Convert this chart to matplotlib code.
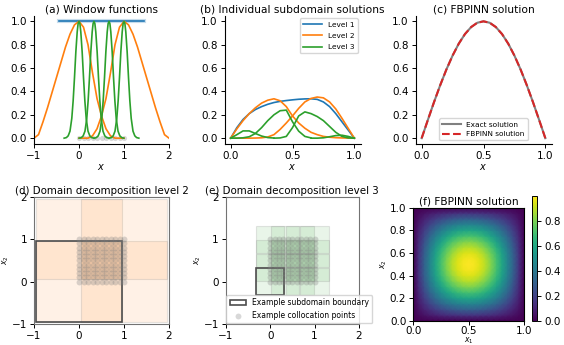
import numpy as np
import matplotlib
matplotlib.use("Agg")
import matplotlib.pyplot as plt
from matplotlib.patches import Rectangle
from matplotlib.colors import to_rgba

# window functions, stored as offset from the subdomain centre
lvl1_range = [-0.45, 1.45]
lvl2_centres = [0.0, 1.0]
lvl2_off = [-1.0, -0.9, -0.8, -0.7, -0.6, -0.5, -0.4, -0.3, -0.2, -0.1, 0.0,
            0.1, 0.2, 0.3, 0.4, 0.5, 0.6, 0.7, 0.8, 0.9, 1.0]
lvl2_win = [0.0, 0.03, 0.14, 0.26, 0.39, 0.52, 0.65, 0.78, 0.89, 0.97, 1.0,
            0.95, 0.80, 0.56, 0.34, 0.19, 0.08, 0.02, 0.0, 0.0, 0.0]
lvl3_centres = [0.0, 0.333, 0.667, 1.0]
lvl3_off = [-0.33, -0.28, -0.24, -0.2, -0.16, -0.13, -0.1, -0.07, -0.04, -0.02, 0.0,
            0.02, 0.04, 0.07, 0.1, 0.13, 0.16, 0.2, 0.24, 0.28, 0.33]
lvl3_win = [0.0, 0.005, 0.02, 0.06, 0.17, 0.32, 0.52, 0.74, 0.91, 0.98, 1.0,
            0.98, 0.91, 0.74, 0.52, 0.32, 0.17, 0.06, 0.02, 0.005, 0.0]

# collocation points
colloc = np.linspace(0, 1, 11)

# individual subdomain solutions
xs = np.linspace(0, 1, 21)
sub_l1 = [0, 0.09, 0.16, 0.21, 0.245, 0.27, 0.29, 0.305, 0.315, 0.322, 0.328,
          0.333, 0.336, 0.337, 0.332, 0.31, 0.27, 0.21, 0.14, 0.07, 0.0]
sub_l2 = [
    [0, 0.08, 0.15, 0.21, 0.26, 0.30, 0.325, 0.337, 0.32, 0.27, 0.19,
     0.13, 0.085, 0.05, 0.03, 0.015, 0.008, 0.004, 0.002, 0.001, 0.0],
    [0, 0, 0, 0, 0.001, 0.003, 0.01, 0.03, 0.075, 0.13, 0.19,
     0.255, 0.31, 0.34, 0.352, 0.345, 0.31, 0.25, 0.17, 0.085, 0.0],
]
nan = np.nan
sub_l3 = [
    [0, 0.03, 0.062, 0.062, 0.04, 0.018, 0.005, 0.001, nan, nan, nan,
     nan, nan, nan, nan, nan, nan, nan, nan, nan, nan],
    [0, 0, 0.003, 0.012, 0.04, 0.09, 0.15, 0.2, 0.235, 0.24, 0.14,
     0.06, 0.015, 0.002, nan, nan, nan, nan, nan, nan, nan],
    [nan, nan, nan, nan, nan, nan, nan, 0.0, 0.002, 0.015, 0.09,
     0.19, 0.225, 0.21, 0.185, 0.15, 0.1, 0.05, 0.015, 0.002, 0.0],
    [nan, nan, nan, nan, nan, nan, nan, nan, nan, nan, nan,
     nan, nan, 0.0, 0.0, 0.003, 0.012, 0.022, 0.025, 0.015, 0.0],
]

# exact and FBPINN solution on the same grid
exact = [0, 0.156, 0.309, 0.454, 0.588, 0.707, 0.809, 0.891, 0.951, 0.988, 1.0,
         0.988, 0.951, 0.891, 0.809, 0.707, 0.588, 0.454, 0.309, 0.156, 0]
fbpinn = [0, 0.156, 0.309, 0.454, 0.588, 0.707, 0.809, 0.891, 0.951, 0.988, 1.0,
          0.988, 0.951, 0.891, 0.809, 0.707, 0.588, 0.454, 0.309, 0.156, 0]

# subdomain half widths for the 2d decompositions
lvl2_half = 0.95
lvl3_half = 0.32

W, H = 564, 345
fig = plt.figure(figsize=(W / 100, H / 100), dpi=100)


def box(l, r, t, b):
    return [l / W, 1 - b / H, (r - l) / W, (b - t) / H]


tick_fs = 7.5
title_fs = 7.7

ax_a = fig.add_axes(box(34, 169, 15.5, 144))
ax_b = fig.add_axes(box(224.5, 360.5, 15.5, 144))
ax_c = fig.add_axes(box(415.5, 551.5, 15.5, 144))
ax_d = fig.add_axes(box(34, 169, 196.7, 324))
ax_e = fig.add_axes(box(225.7, 359, 196.7, 324))
ax_f = fig.add_axes(box(413.3, 524.3, 207.7, 320.7))
cax = fig.add_axes(box(531.5, 537, 196, 320.7))

for ax in (ax_a, ax_b, ax_c, ax_d, ax_e, ax_f):
    ax.tick_params(labelsize=tick_fs, length=3, width=0.7, pad=2)
for ax in (ax_a, ax_b, ax_c):
    ax.spines["top"].set_visible(False)
    ax.spines["right"].set_visible(False)
    ax.set_ylim(-0.05, 1.05)
    ax.set_yticks([0, 0.2, 0.4, 0.6, 0.8, 1.0])
    ax.set_xlabel("$x$", fontsize=7, labelpad=1)

# (a) window functions
ax_a.plot(lvl1_range, [1, 1], color="C0", lw=3, alpha=0.25)
ax_a.plot(lvl1_range, [1, 1], color="C0", lw=1.2)
for c in lvl2_centres:
    sgn = 1 if c < 0.5 else -1
    ax_a.plot(c + sgn * np.array(lvl2_off), lvl2_win, color="C1", lw=1.2)
for c in lvl3_centres:
    ax_a.plot(c + np.array(lvl3_off), lvl3_win, color="C2", lw=1.2)
ax_a.scatter(colloc, np.zeros_like(colloc), s=14, color="gray", alpha=0.3,
             lw=0, zorder=0)
ax_a.set_xlim(-1, 2)
ax_a.set_xticks([-1, 0, 1, 2])
ax_a.set_title("(a) Window functions", fontsize=title_fs, pad=2)

# (b) individual subdomain solutions
ax_b.plot(xs, sub_l1, color="C0", lw=1.2, label="Level 1")
for i, ys in enumerate(sub_l2):
    ax_b.plot(xs, ys, color="C1", lw=1.2, label="Level 2" if i == 0 else None)
for i, ys in enumerate(sub_l3):
    ax_b.plot(xs, ys, color="C2", lw=1.2, label="Level 3" if i == 0 else None)
ax_b.set_xlim(-0.05, 1.05)
ax_b.set_xticks([0, 0.5, 1.0])
ax_b.legend(loc="upper right", fontsize=5.3, handlelength=2.6,
            labelspacing=0.7, borderaxespad=0.4)
ax_b.set_title("(b) Individual subdomain solutions", fontsize=title_fs, pad=2)

# (c) FBPINN solution
ax_c.plot(xs, exact, color="gray", lw=1.5, label="Exact solution")
ax_c.plot(xs, fbpinn, color="C3", lw=1.5, ls="--", label="FBPINN solution")
ax_c.set_xlim(-0.05, 1.05)
ax_c.set_xticks([0, 0.5, 1.0])
ax_c.legend(loc="lower center", fontsize=5.3, handlelength=2.5)
ax_c.set_title("(c) FBPINN solution", fontsize=title_fs, pad=2)

# (d), (e) domain decompositions
px, py = np.meshgrid(colloc, colloc)


def decomposition(ax, centres, half, colour, title, legend=False):
    for cy in centres:
        for cx in centres:
            ax.add_patch(Rectangle((cx - half, cy - half), 2 * half, 2 * half,
                                   facecolor=to_rgba(colour, 0.1),
                                   edgecolor=to_rgba("gray", 0.2), lw=0.8))
    ax.add_patch(Rectangle((centres[0] - half, centres[0] - half), 2 * half,
                           2 * half, fill=False, edgecolor="0.3", lw=1.2,
                           label="Example subdomain boundary"))
    ax.scatter(px.ravel(), py.ravel(), s=18, color="gray", alpha=0.3, lw=0,
               label="Example collocation points")
    ax.set_xlim(-1, 2)
    ax.set_ylim(-1, 2)
    ax.set_xticks([-1, 0, 1, 2])
    ax.set_yticks([-1, 0, 1, 2])
    for s in ax.spines.values():
        s.set_color("0.45")
    ax.set_ylabel("$x_2$", fontsize=5.5, labelpad=0.5)
    ax.set_title(title, fontsize=7.4, pad=2)
    if legend:
        ax.legend(loc="lower left", fontsize=5.5, borderaxespad=0.1,
                  handlelength=2.2)


decomposition(ax_d, lvl2_centres, lvl2_half, "C1",
              "(d) Domain decomposition level 2")
decomposition(ax_e, lvl3_centres, lvl3_half, "C2",
              "(e) Domain decomposition level 3", legend=True)

# (f) 2d solution
field = np.outer(exact, exact)
mesh = ax_f.pcolormesh(xs, xs, field, shading="gouraud", cmap="viridis")
ax_f.set_xlim(0, 1)
ax_f.set_ylim(0, 1)
ax_f.set_xticks([0, 0.5, 1.0])
ax_f.set_yticks([0, 0.2, 0.4, 0.6, 0.8, 1.0])
ax_f.tick_params(axis="x", pad=1)
ax_f.set_xlabel("$x_1$", fontsize=5.5, labelpad=-0.5)
ax_f.set_ylabel("$x_2$", fontsize=5.5, labelpad=0.5)
ax_f.set_title("(f) FBPINN solution", fontsize=title_fs, pad=2)
cb = fig.colorbar(mesh, cax=cax, ticks=[0, 0.2, 0.4, 0.6, 0.8])
cb.ax.tick_params(labelsize=tick_fs, length=3, width=0.7, pad=2)
cb.outline.set_linewidth(0.7)

fig.savefig("out.png", dpi=100)
